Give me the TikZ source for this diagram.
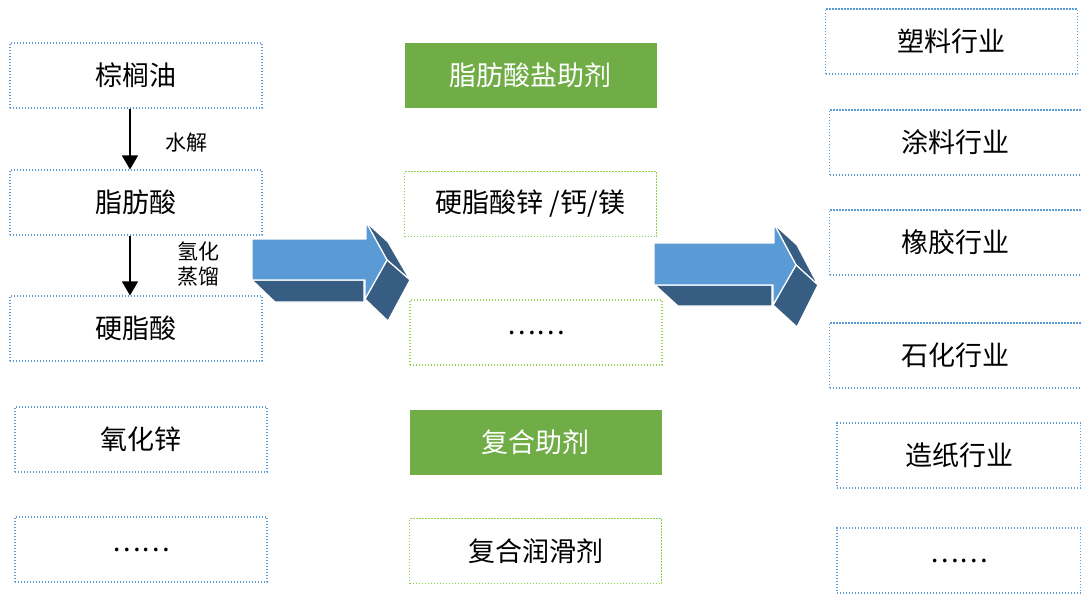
\documentclass[tikz,border=0pt]{standalone}
\usepackage{fontspec}
\newfontfamily\cjk{Noto Sans CJK SC}
\usetikzlibrary{arrows.meta}
\definecolor{bluedot}{HTML}{5B9BD5}
\definecolor{greendot}{HTML}{92D050}
\definecolor{greenfill}{HTML}{70AD47}
\definecolor{arrowlight}{HTML}{5B9BD5}
\definecolor{arrowdark}{HTML}{385D82}
\tikzset{
  bx/.style={minimum width=252pt, minimum height=65pt, inner sep=0pt, line width=1.1pt,
    dash pattern=on 1.4pt off 1.6pt, font=\cjk\fontsize{27}{30}\selectfont},
  bluebox/.style={bx, draw=bluedot},
  greenbox/.style={bx, draw=greendot},
  fillbox/.style={bx, draw=none, fill=greenfill, text=white},
  lbl/.style={font=\cjk\fontsize{21}{23}\selectfont, inner sep=0pt},
  flow/.style={line width=1.3pt, -{Triangle[width=16pt,length=14pt]}},
  face/.style={draw=white, line width=1.2pt, line join=round},
}
\begin{document}
\begin{tikzpicture}[x=1pt,y=-1pt]
\useasboundingbox (0,0) rectangle (1081,595);
% left column
\node[bluebox] (palm) at (136,75.5) {棕榈油};
\node[bluebox] (fatty) at (136,202.5) {脂肪酸};
\node[bluebox] (stearic) at (136,328.5) {硬脂酸};
\node[bluebox] (zno) at (141,439.5) {氧化锌};
\node[bluebox] (lmore) at (141,549.5) {……};
\draw[flow] (palm.south -| 130,0) -- (fatty.north -| 130,0);
\draw[flow] (fatty.south -| 130,0) -- (stearic.north -| 130,0);
\node[lbl] (hyd) at (186,143) {水解};
\node[lbl] (h2) at (198,251) {氢化};
\node[lbl] (dist) at (198,277) {蒸馏};
% middle column
\node[fillbox] (salt) at (530.5,75) {脂肪酸盐助剂};
\node[greenbox] (znst) at (530.5,204) {硬脂酸锌 /钙/镁};
\node[greenbox] (mmore) at (536,332.5) {……};
\node[fillbox] (comp) at (535.5,442) {复合助剂};
\node[greenbox] (lub) at (535.5,551) {复合润滑剂};
% right column
\node[bluebox] (plastic) at (951.5,41.5) {塑料行业};
\node[bluebox] (coat) at (955.5,142.5) {涂料行业};
\node[bluebox] (rubber) at (955.5,242.5) {橡胶行业};
\node[bluebox] (petro) at (955.5,355.5) {石化行业};
\node[bluebox, minimum width=244pt] (paper) at (959,455.5) {造纸行业};
\node[bluebox, minimum width=244pt] (rmore) at (959,560.5) {……};
% 3D arrow 1
\fill[arrowdark, face] (252,280) -- (275,302) -- (364,302) -- (364,280) -- cycle;
\fill[arrowdark, face] (366,222) -- (388,242) -- (410,280) -- (387,260) -- cycle;
\fill[arrowdark, face] (387,260) -- (410,280) -- (388,321) -- (365,299) -- cycle;
\fill[arrowlight, face] (252,239) -- (366,239) -- (366,222) -- (387,260) -- (365,299) -- (365,280) -- (252,280) -- cycle;
% 3D arrow 2
\fill[arrowdark, face] (655,285) -- (678,306) -- (772,306) -- (772,285) -- cycle;
\fill[arrowdark, face] (774,224) -- (797,245) -- (818,285) -- (796,265) -- cycle;
\fill[arrowdark, face] (796,265) -- (818,285) -- (797,327) -- (773,305) -- cycle;
\fill[arrowlight, face] (654,243) -- (774,243) -- (774,224) -- (796,265) -- (773,305) -- (773,285) -- (654,285) -- cycle;
\end{tikzpicture}
\end{document}
